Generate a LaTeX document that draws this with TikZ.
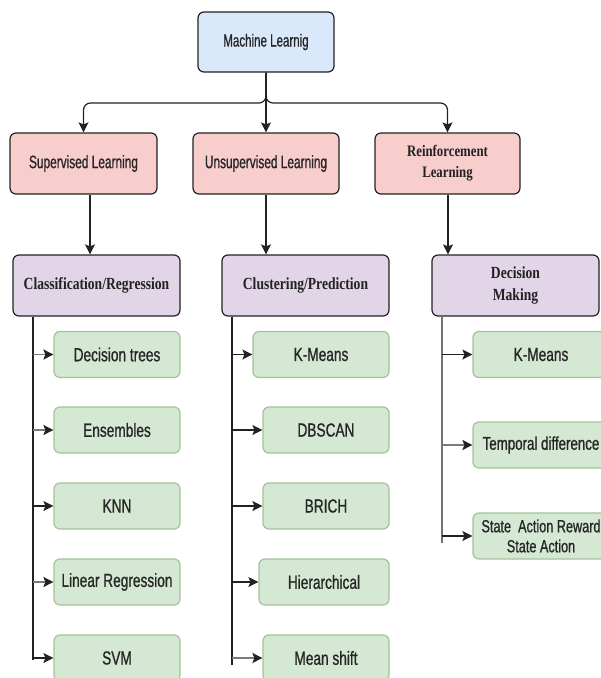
\documentclass[tikz,border=0pt]{standalone}
\usepackage{fontspec}
\usetikzlibrary{arrows.meta,calc}
\newfontfamily\lsans[FakeStretch=0.72,FakeBold=0.8]{Liberation Sans}
\newfontfamily\lsansn[FakeStretch=0.66,FakeBold=0.8]{Liberation Sans}
\newfontfamily\lserif[FakeStretch=0.8]{Liberation Serif}
\definecolor{txt}{HTML}{262626}
\definecolor{rootfill}{HTML}{DAE8FC}
\definecolor{redfill}{HTML}{F8CECC}
\definecolor{purplefill}{HTML}{E1D5E7}
\definecolor{greenfill}{HTML}{D5E8D4}
\definecolor{greenline}{HTML}{A3C29A}
\definecolor{edge}{HTML}{222222}
\definecolor{greyshaft}{HTML}{7A7A7A}
\begin{document}
\begin{tikzpicture}[x=1pt,y=-1pt,
  box/.style={draw=edge, line width=1.2pt, rounded corners=6pt, inner sep=0pt, align=center, text=txt},
  rootbox/.style={box, fill=rootfill, minimum width=136pt, minimum height=60pt, font=\lsansn\fontsize{17.5}{20}\selectfont},
  lvtwo/.style={box, fill=redfill, minimum width=146pt, minimum height=61pt, font=\lsansn\fontsize{18}{20}\selectfont},
  lvtwoserif/.style={lvtwo, font=\lserif\bfseries\fontsize{16}{21}\selectfont, text=edge},
  lvthree/.style={box, fill=purplefill, minimum width=167pt, minimum height=61pt, font=\lserif\bfseries\fontsize{17}{22}\selectfont, text=edge},
  leaf/.style={box, draw=greenline, fill=greenfill, minimum width=126pt, minimum height=46pt, font=\lsans\fontsize{19}{20}\selectfont},
  line/.style={draw=edge, line width=1.2pt},
  arr/.style={line, -{Stealth[length=10pt,width=10pt,inset=2pt]}},
  garr/.style={draw=greyshaft, line width=1.8pt, -{Stealth[length=10pt,width=10pt,inset=2pt,color=edge]}},
]
\useasboundingbox (0,0) rectangle (601,678);
\clip (0,0) rectangle (601,678);

% top levels
\node[rootbox] (ml) at (266,42) {Machine Learnig};
\node[lvtwo, minimum width=147pt] (sup) at (83.5,163.5) {Supervised Learning};
\node[lvtwo] (uns) at (266,163.5) {Unsupervised Learning};
\node[lvtwoserif, minimum width=145pt] (rein) at (447.5,163.5) {Reinforcement\\Learning};

\coordinate (jy) at (266,103);
\draw[arr, rounded corners=7pt] (ml.south) -- (jy) -| (sup.north);
\draw[arr, rounded corners=7pt] (ml.south) -- (jy) -| (rein.north);
\draw[arr] (ml.south) -- (uns.north);

% third level
\node[lvthree] (cls) at (96.5,285.5) {Classification/Regression};
\node[lvthree] (clu) at (305.5,285.5) {Clustering/Prediction};
\node[lvthree] (dec) at (515.5,285.5) {Decision\\Making};

\coordinate (ca) at (90,0);
\coordinate (cb) at (266,0);
\coordinate (cc) at (448,0);
\draw[arr] (sup.south -| ca) -- (cls.north -| ca);
\draw[arr] (uns.south -| cb) -- (clu.north -| cb);
\draw[arr] (rein.south -| cc) -- (dec.north -| cc);

% leaves column 1
\node[leaf] (d1) at (117,354.5) {Decision trees};
\node[leaf] (d2) at (117,430) {Ensembles};
\node[leaf] (d3) at (117,506) {KNN};
\node[leaf] (d4) at (117,582) {Linear Regression};
\node[leaf] (d5) at (117,658) {SVM};

% leaves column 2
\node[leaf, minimum width=136pt] (k1) at (321,354.5) {K-Means};
\node[leaf] (k2) at (326,430) {DBSCAN};
\node[leaf] (k3) at (326,506) {BRICH};
\node[leaf, minimum width=130pt] (k4) at (324,582) {Hierarchical};
\node[leaf] (k5) at (326,658) {Mean shift};

% leaves column 3
\node[leaf, minimum width=136pt] (r1) at (541,354.5) {K-Means};
\node[leaf, minimum width=136pt, font=\lsans\fontsize{18.5}{20}\selectfont] (r2) at (541,445) {Temporal difference};
\node[leaf, minimum width=136pt, font=\lsans\fontsize{17.6}{20}\selectfont] (r3) at (541,536) {State~ Action Reward\\State Action};

% trunks
\coordinate (t1) at (33,660);
\coordinate (t2) at (232,665);
\coordinate (t3) at (442,543);
\draw[line] (cls.south -| t1) -- (t1);
\draw[line] (clu.south -| t2) -- (t2);
\draw[line, draw=gray!90!black] (dec.south -| t3) -- (t3);

% branch arrows
\draw[garr] (d1.west -| t1) -- (d1.west);
\draw[garr] (d2.west -| t1) -- (d2.west);
\draw[arr]  (d3.west -| t1) -- (d3.west);
\draw[garr] (d4.west -| t1) -- (d4.west);
\draw[arr]  (d5.west -| t1) -- (d5.west);

\draw[arr]  (k1.west -| t2) -- (k1.west);
\draw[arr]  (k2.west -| t2) -- (k2.west);
\draw[arr]  (k3.west -| t2) -- (k3.west);
\draw[arr]  (k4.west -| t2) -- (k4.west);
\draw[garr] (k5.west -| t2) -- (k5.west);

\draw[arr]  (r1.west -| t3) -- (r1.west);
\draw[garr] (r2.west -| t3) -- (r2.west);
\draw[arr]  (r3.west -| t3) -- (r3.west);
\end{tikzpicture}
\end{document}
